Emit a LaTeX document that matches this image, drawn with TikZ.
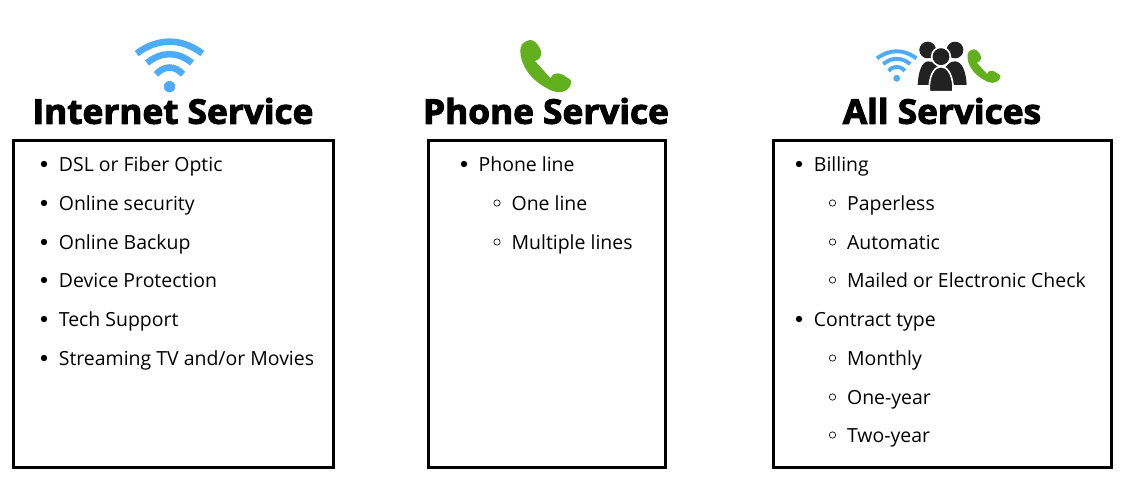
\documentclass[tikz,border=0pt]{standalone}
\usepackage{fontspec}
\setmainfont{Open Sans}[BoldFeatures={FakeBold=3,FakeStretch=1.035}]
\definecolor{wifiblue}{HTML}{4DABF7}
\definecolor{phonegreen}{HTML}{63B01E}
\definecolor{peopledark}{HTML}{222222}
\tikzset{
  panel/.style={draw=black,line width=3pt,fill=white,outer sep=0pt,inner sep=0pt,anchor=north west},
  heading/.style={font=\fontsize{34}{36}\selectfont\bfseries,anchor=center,inner sep=0pt},
  item/.style={font=\fontsize{19.45}{22}\selectfont,anchor=base west,inner sep=0pt},
  bulletA/.style={fill=black,draw=none},
  bulletB/.style={draw=black,line width=0.65pt,fill=white},
  wifiarc/.style={draw=wifiblue,line cap=butt},
  wifi/.pic={
    \fill[wifiblue] (0,0) circle (5.7);
    \draw[wifiarc,line width=#1*6.5pt] (-32.8,-33.2) .. controls (-12,-49) and (12,-49) .. (32.8,-33.2);
    \draw[wifiarc,line width=#1*6.5pt] (-22.5,-23.7) .. controls (-8,-35.5) and (8,-35.5) .. (22.5,-23.7);
    \draw[wifiarc,line width=#1*6.5pt] (-13.5,-12.4) .. controls (-5,-21.5) and (5,-21.5) .. (13.5,-12.4);
  },
  phone/.pic={
    \fill[phonegreen] (75,30) .. controls (55,33) and (44,48) .. (46,65)
      .. controls (46,95) and (68,145) .. (125,174)
      .. controls (145,188) and (180,194) .. (194,170)
      .. controls (204,155) and (198,148) .. (185,142)
      .. controls (165,126) and (143,125) .. (137,145)
      -- (90,93)
      .. controls (114,85) and (112,65) .. (102,50)
      .. controls (95,38) and (85,30) .. (75,30) -- cycle;
  }
}
\begin{document}
\begin{tikzpicture}[x=1pt,y=-1pt]
\useasboundingbox (0,0) rectangle (1131,492);
\fill[white] (0,0) rectangle (1131,492);
% panels
\node[panel,minimum width=320pt,minimum height=327pt] (boxA) at (13,140) {};
\node[panel,minimum width=237pt,minimum height=327pt] (boxB) at (428,140) {};
\node[panel,minimum width=338pt,minimum height=327pt] (boxC) at (773,140) {};
% headings
\node[heading] (titleA) at (173,111) {Internet Service};
\node[heading] (titleB) at (546,111) {Phone Service};
\node[heading] (titleC) at (942,111) {All Services};
% icons
\pic at (169.5,86.7) {wifi=1};
\pic[shift={(505,30)},scale=1/3] {phone};
\pic[shift={(896.7,78.3)},scale=0.6] {wifi=0.6};
\pic[shift={(957.6,42.8)},scale=0.215] {phone};
% people
\begin{scope}[shift={(865,30)},scale=1/3]
  \fill[peopledark] (188,60) circle (25);
  \fill[peopledark] (270,60) circle (25);
  \fill[peopledark] (158,165) .. controls (160,125) and (170,95) .. (190,94) .. controls (205,94) and (215,105) .. (225,120) -- (215,165) -- cycle;
  \fill[peopledark] (305,165) .. controls (303,125) and (292,95) .. (270,94) .. controls (255,94) and (245,105) .. (235,120) -- (245,165) -- cycle;
  \filldraw[peopledark,draw=white,line width=1.6pt] (228,80) circle (28);
  \filldraw[peopledark,draw=white,line width=1.6pt] (193,185) -- (193,165) .. controls (196,130) and (210,110) .. (228,110) .. controls (246,110) and (260,130) .. (264,165) -- (264,185) -- cycle;
\end{scope}
% bullets column A
\foreach \y/\t/\n in {164/DSL or Fiber Optic/a1,203/Online security/a2,242/Online Backup/a3,280/Device Protection/a4,319/Tech Support/a5,358/Streaming TV and\slash or Movies/a6}{
  \fill[bulletA] (44,\y) circle (3.2);
  \node[item] (\n) at (58.7,\y+7.6) {\t};
}
% column B
\fill[bulletA] (464,164) circle (3.2);
\node[item] (b1) at (478.4,171.6) {Phone line};
\foreach \y/\t/\n in {203/One line/b2,242/Multiple lines/b3}{
  \draw[bulletB] (497,\y) circle (3.2);
  \node[item] (\n) at (511.4,\y+7.6) {\t};
}
% column C
\foreach \y/\t/\n in {164/Billing/c1,319/Contract type/c5}{
  \fill[bulletA] (799,\y) circle (3.2);
  \node[item] (\n) at (813.7,\y+7.6) {\t};
}
\foreach \y/\t/\n in {203/Paperless/c2,242/Automatic/c3,280/Mailed or Electronic Check/c4,358/Monthly/c6,397/One-year/c7,435/Two-year/c8}{
  \draw[bulletB] (832.5,\y) circle (3.2);
  \node[item] (\n) at (846.9,\y+7.6) {\t};
}
\end{tikzpicture}
\end{document}
